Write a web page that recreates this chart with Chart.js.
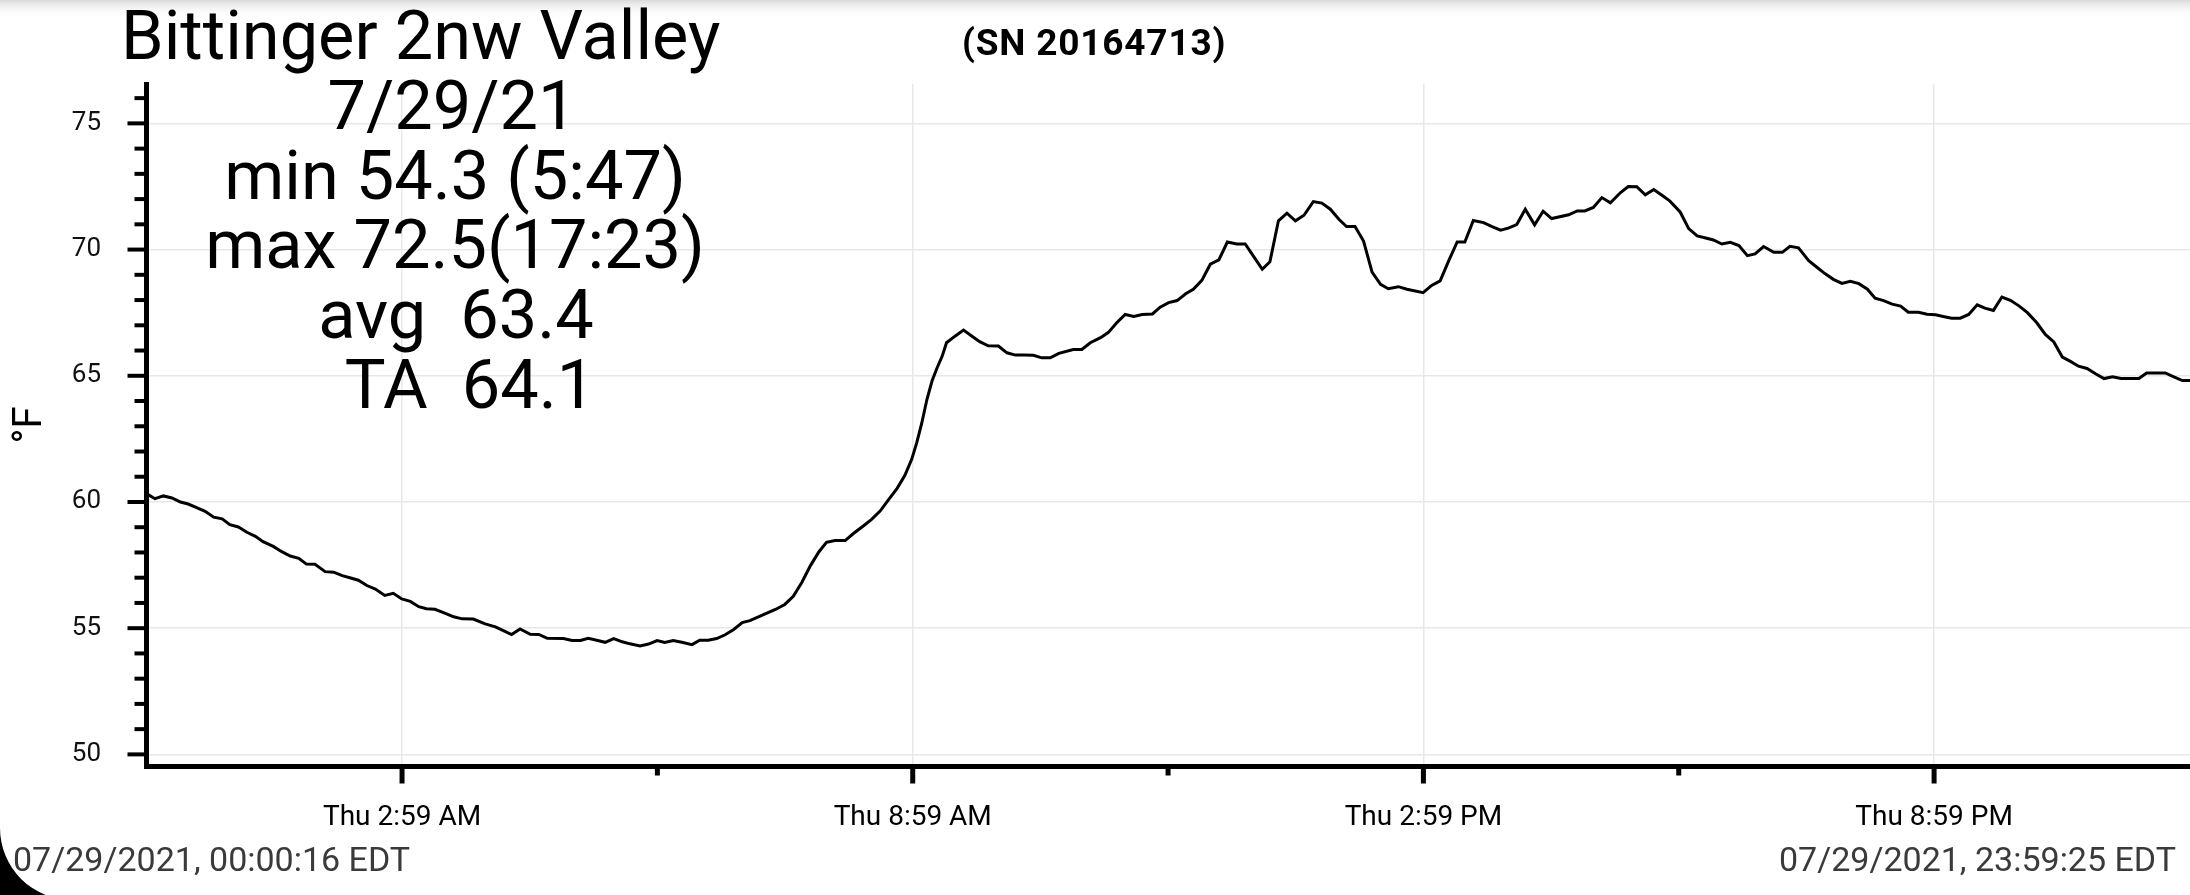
<!DOCTYPE html>
<html>
<head>
<meta charset="utf-8">
<script src="https://cdn.jsdelivr.net/npm/chart.js@4.4.1/dist/chart.umd.min.js"></script>
<style>
  html, body { margin: 0; padding: 0; background: #ffffff; }
  #wrap { position: relative; width: 2190px; height: 895px; }
</style>
</head>
<body>
<div id="wrap"><canvas id="chart"></canvas></div>
<script>
// ---- data (hours after midnight, 07/29/2021; temperature °F) ----
const hours = [
  0.00, 0.08, 0.18, 0.28, 0.38, 0.47, 0.57, 0.67, 0.77, 0.87, 0.96, 1.06, 1.16, 1.26, 1.35, 1.47,
  1.57, 1.67, 1.77, 1.86, 1.96, 2.08, 2.18, 2.28, 2.37, 2.47, 2.57, 2.67, 2.78, 2.88, 2.98, 3.08,
  3.18, 3.27, 3.37, 3.47, 3.59, 3.69, 3.82, 3.96, 4.08, 4.18, 4.27, 4.37, 4.49, 4.59, 4.69, 4.88,
  4.98, 5.08, 5.17, 5.27, 5.37, 5.47, 5.57, 5.66, 5.78, 5.88, 5.98, 6.07, 6.17, 6.27, 6.39, 6.48,
  6.58, 6.68, 6.78, 6.88, 6.98, 7.07, 7.17, 7.27, 7.37, 7.48, 7.58, 7.68, 7.78, 7.88, 7.97, 8.07,
  8.19, 8.29, 8.41, 8.50, 8.60, 8.70, 8.80, 8.89, 8.97, 9.03, 9.09, 9.15, 9.21, 9.27, 9.33, 9.38,
  9.48, 9.58, 9.68, 9.77, 9.87, 9.99, 10.09, 10.19, 10.29, 10.40, 10.50, 10.60, 10.70, 10.87, 10.97, 11.07,
  11.19, 11.28, 11.38, 11.48, 11.58, 11.68, 11.80, 11.89, 11.99, 12.09, 12.19, 12.28, 12.38, 12.48, 12.58, 12.68,
  12.79, 12.89, 12.99, 13.09, 13.18, 13.28, 13.38, 13.48, 13.58, 13.69, 13.79, 13.89, 13.99, 14.08, 14.18, 14.28,
  14.38, 14.48, 14.57, 14.69, 14.79, 14.98, 15.08, 15.18, 15.28, 15.38, 15.47, 15.57, 15.69, 15.79, 15.89, 15.98,
  16.08, 16.18, 16.29, 16.39, 16.49, 16.69, 16.79, 16.88, 16.98, 17.08, 17.18, 17.30, 17.39, 17.49, 17.59, 17.69,
  17.79, 17.88, 18.00, 18.10, 18.20, 18.30, 18.39, 18.49, 18.59, 18.69, 18.79, 18.88, 18.98, 19.10, 19.20, 19.29,
  19.39, 19.51, 19.61, 19.70, 19.80, 19.90, 20.00, 20.10, 20.20, 20.29, 20.39, 20.49, 20.59, 20.68, 20.80, 20.90,
  21.00, 21.09, 21.19, 21.29, 21.39, 21.49, 21.58, 21.68, 21.78, 21.88, 21.98, 22.08, 22.19, 22.29, 22.39, 22.49,
  22.58, 22.68, 22.78, 22.88, 22.98, 23.08, 23.18, 23.27, 23.39, 23.48, 23.58, 23.70, 23.80, 23.90, 23.99
];
const tempsF = [
  60.29, 60.13, 60.24, 60.16, 60.00, 59.92, 59.78, 59.63, 59.40, 59.33, 59.10, 59.01, 58.80, 58.64, 58.43, 58.24,
  58.03, 57.86, 57.77, 57.54, 57.53, 57.24, 57.22, 57.08, 57.00, 56.90, 56.69, 56.55, 56.30, 56.38, 56.16, 56.06,
  55.85, 55.77, 55.75, 55.62, 55.45, 55.37, 55.36, 55.17, 55.05, 54.89, 54.75, 54.97, 54.76, 54.75, 54.60, 54.59,
  54.51, 54.51, 54.60, 54.52, 54.44, 54.59, 54.46, 54.38, 54.30, 54.37, 54.51, 54.43, 54.51, 54.44, 54.35, 54.52,
  54.52, 54.59, 54.74, 54.95, 55.22, 55.30, 55.45, 55.60, 55.74, 55.94, 56.26, 56.81, 57.47, 58.02, 58.40, 58.47,
  58.47, 58.76, 59.07, 59.31, 59.64, 60.09, 60.54, 61.05, 61.68, 62.34, 63.13, 64.06, 64.79, 65.32, 65.78, 66.31,
  66.57, 66.81, 66.57, 66.35, 66.19, 66.18, 65.91, 65.82, 65.82, 65.81, 65.71, 65.71, 65.89, 66.04, 66.04, 66.31,
  66.51, 66.71, 67.10, 67.43, 67.35, 67.43, 67.45, 67.72, 67.90, 67.98, 68.25, 68.43, 68.78, 69.42, 69.59, 70.30,
  70.22, 70.22, 69.72, 69.22, 69.52, 71.14, 71.44, 71.14, 71.36, 71.90, 71.84, 71.60, 71.20, 70.91, 70.91, 70.34,
  69.11, 68.62, 68.45, 68.53, 68.43, 68.29, 68.58, 68.76, 69.55, 70.30, 70.30, 71.15, 71.07, 70.91, 70.77, 70.85,
  70.99, 71.60, 70.98, 71.52, 71.23, 71.38, 71.53, 71.53, 71.67, 72.06, 71.85, 72.26, 72.50, 72.49, 72.17, 72.38,
  72.14, 71.92, 71.49, 70.83, 70.54, 70.46, 70.38, 70.22, 70.29, 70.16, 69.76, 69.83, 70.12, 69.89, 69.89, 70.13,
  70.07, 69.56, 69.29, 69.05, 68.82, 68.66, 68.74, 68.65, 68.43, 68.07, 67.98, 67.84, 67.76, 67.52, 67.52, 67.44,
  67.42, 67.35, 67.28, 67.28, 67.43, 67.81, 67.68, 67.59, 68.12, 67.99, 67.77, 67.50, 67.10, 66.64, 66.34, 65.74,
  65.58, 65.38, 65.29, 65.08, 64.89, 64.96, 64.89, 64.89, 64.89, 65.11, 65.11, 65.11, 64.96, 64.81, 64.81
];

// ---- tick definitions ----
const xTickHours = [2.9833, 8.9833, 14.9833, 20.9833];
const xTickLabels = ["Thu 2:59 AM", "Thu 8:59 AM", "Thu 2:59 PM", "Thu 8:59 PM"];
const xMinorTickHours = [5.9833, 11.9833, 17.9833];
const yMajorTicks = [50, 55, 60, 65, 70, 75];
const yTickLabels = ["50", "55", "60", "65", "70", "75"];

// ---- text ----
const titleText = "Bittinger 2nw Valley";
const serialText = "(SN 20164713)";
const statsLines = ["7/29/21", "min 54.3 (5:47)", "max 72.5(17:23)", "avg  63.4", "TA  64.1"];
const startStamp = "07/29/2021, 00:00:16 EDT";
const endStamp = "07/29/2021, 23:59:25 EDT";
const yAxisTitle = "°F";

const FONT = "Roboto, 'Noto Sans', sans-serif";

const decorPlugin = {
  id: 'decor',
  beforeDraw(chart) {
    const ctx = chart.ctx;
    ctx.save();
    ctx.fillStyle = '#ffffff';
    ctx.fillRect(0, 0, chart.width, chart.height);
    const g = ctx.createLinearGradient(0, 0, 0, 18);
    g.addColorStop(0, '#dadada');
    g.addColorStop(1, 'rgba(255,255,255,0)');
    ctx.fillStyle = g;
    ctx.fillRect(0, 0, chart.width, 18);
    ctx.restore();
  },
  afterDraw(chart) {
    const ctx = chart.ctx;
    const xs = chart.scales.x, ys = chart.scales.y;
    const area = chart.chartArea;
    ctx.save();
    // axis tick marks
    ctx.strokeStyle = '#000';
    ctx.lineCap = 'butt';
    ctx.lineWidth = 4;
    ys.ticks.forEach(t => {
      const y = ys.getPixelForValue(t.value);
      const len = t.major ? 16 : 9;
      ctx.beginPath();
      ctx.moveTo(area.left - 2.5 - len, y);
      ctx.lineTo(area.left, y);
      ctx.stroke();
    });
    ctx.lineWidth = 5;
    xs.ticks.forEach(t => {
      const x = xs.getPixelForValue(t.value);
      const len = t.major ? 15 : 7;
      ctx.beginPath();
      ctx.moveTo(x, area.bottom);
      ctx.lineTo(x, area.bottom + 2.5 + len);
      ctx.stroke();
    });

    // title texts
    ctx.fillStyle = '#000';
    ctx.textBaseline = 'alphabetic';
    ctx.textAlign = 'left';
    ctx.font = `68.5px ${FONT}`;
    ctx.fillText(titleText, 121, 59);

    ctx.font = `bold 37px ${FONT}`;
    ctx.letterSpacing = '0.8px';
    ctx.textAlign = 'left';
    ctx.fillText(serialText, 962, 55);
    ctx.letterSpacing = '0px';

    ctx.font = `68.5px ${FONT}`;
    ctx.textAlign = 'center';
    const centers = [452, 455, 455, 456, 470];
    statsLines.forEach((s, i) => {
      ctx.fillText(s, centers[i], 129 + i * 69.7);
    });

    // time stamps
    ctx.fillStyle = '#3a3a3a';
    ctx.font = `34px ${FONT}`;
    ctx.textAlign = 'left';
    ctx.fillText(startStamp, 13, 871);
    ctx.textAlign = 'right';
    ctx.fillText(endStamp, 2176, 871);

    // rounded screen corner
    ctx.fillStyle = '#000';
    ctx.beginPath();
    ctx.moveTo(0, 828);
    ctx.arc(72, 828, 72, Math.PI, Math.PI / 2, true);
    ctx.lineTo(0, 900);
    ctx.closePath();
    ctx.fill();
    ctx.restore();
  }
};

const ctx = document.getElementById('chart').getContext('2d');
new Chart(ctx, {
  type: 'line',
  data: {
    datasets: [{
      data: hours.map((h, i) => ({ x: h, y: tempsF[i] })),
      borderColor: '#000000',
      borderWidth: 3,
      pointRadius: 0,
      tension: 0,
      fill: false
    }]
  },
  options: {
    responsive: true,
    maintainAspectRatio: false,
    devicePixelRatio: 1,
    animation: false,
    layout: { padding: { top: 84, left: 0, right: 0, bottom: 0 } },
    plugins: { legend: { display: false }, tooltip: { enabled: false }, title: { display: false } },
    scales: {
      x: {
        type: 'linear',
        min: -0.025,
        max: 23.99,
        afterBuildTicks: (scale) => {
          scale.ticks = xTickHours.map(v => ({ value: v, major: true }))
            .concat(xMinorTickHours.map(v => ({ value: v, major: false })))
            .sort((a, b) => a.value - b.value);
        },
        afterFit: (scale) => { scale.height = 129; },
        ticks: {
          autoSkip: false,
          maxRotation: 0,
          padding: 35,
          color: '#000',
          font: { family: FONT, size: 28 },
          callback: (value) => {
            const i = xTickHours.indexOf(value);
            return i >= 0 ? xTickLabels[i] : '';
          }
        },
        grid: {
          drawTicks: false,
          lineWidth: 1.5,
          color: (c) => (c.tick && c.tick.major) ? '#e8e8e8' : 'rgba(0,0,0,0)'
        },
        border: { display: true, color: '#000', width: 5 }
      },
      y: {
        type: 'linear',
        min: 49.54,
        max: 76.56,
        afterBuildTicks: (scale) => {
          const t = [];
          for (let v = 50; v <= 76; v++) t.push({ value: v, major: yMajorTicks.includes(v) });
          scale.ticks = t;
        },
        afterFit: (scale) => { scale.width = 146; },
        ticks: {
          autoSkip: false,
          padding: 45,
          color: '#111',
          font: { family: FONT, size: 26 },
          callback: (value) => {
            const i = yMajorTicks.indexOf(value);
            return i >= 0 ? yTickLabels[i] : '';
          }
        },
        grid: {
          drawTicks: false,
          lineWidth: 1.5,
          color: (c) => (c.tick && c.tick.major) ? '#e8e8e8' : 'rgba(0,0,0,0)'
        },
        border: { display: true, color: '#000', width: 5 },
        title: {
          display: true,
          text: yAxisTitle,
          color: '#000',
          font: { family: FONT, size: 40 },
          padding: { top: 7, bottom: 0 }
        }
      }
    }
  },
  plugins: [decorPlugin]
});
</script>
</body>
</html>
